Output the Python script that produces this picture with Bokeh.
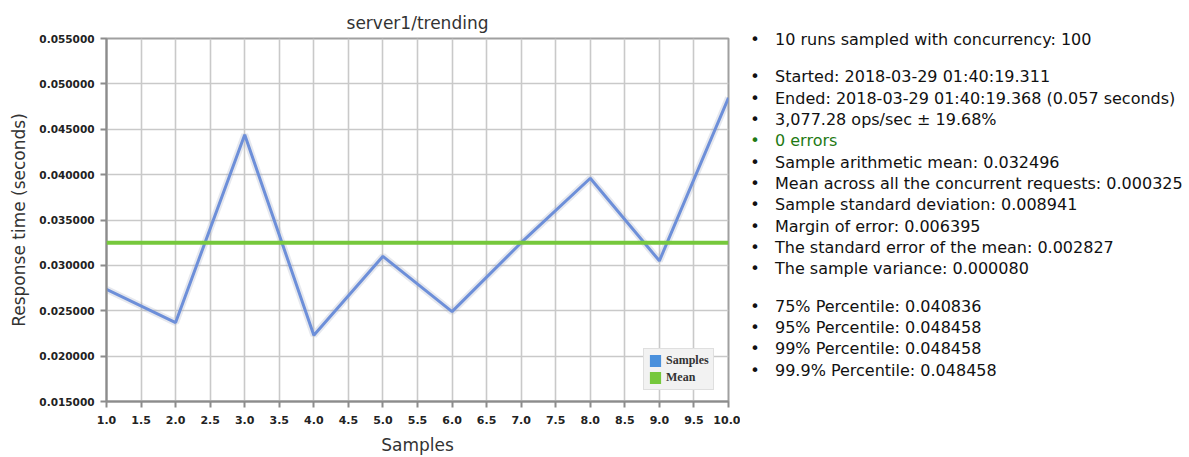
from bokeh.plotting import figure
from bokeh.models import (Range1d, Span, Legend, LegendItem, PrintfTickFormatter, FixedTicker,
                          ColumnDataSource, Div)
from bokeh.layouts import row
from bokeh.embed import file_html
from bokeh.resources import INLINE

# ---------------- data ----------------
title_text = "server1/trending"
x_label = "Samples"
y_label = "Response time (seconds)"
sample_index = [1, 2, 3, 4, 5, 6, 7, 8, 9, 10]
response_times = [0.02735, 0.0237, 0.0444, 0.0223, 0.0310, 0.0249, 0.0325, 0.0396, 0.0305, 0.048458]
mean_value = 0.032496
x_ticks = [1.0, 1.5, 2.0, 2.5, 3.0, 3.5, 4.0, 4.5, 5.0, 5.5, 6.0, 6.5, 7.0, 7.5, 8.0, 8.5, 9.0, 9.5, 10.0]
y_ticks = [0.015, 0.020, 0.025, 0.030, 0.035, 0.040, 0.045, 0.050, 0.055]
legend_labels = ["Samples", "Mean"]

stats_lines = [
    "10 runs sampled with concurrency: 100",
    "Started: 2018-03-29 01:40:19.311",
    "Ended: 2018-03-29 01:40:19.368 (0.057 seconds)",
    "3,077.28 ops/sec \u00b1 19.68%",
    "0 errors",
    "Sample arithmetic mean: 0.032496",
    "Mean across all the concurrent requests: 0.000325",
    "Sample standard deviation: 0.008941",
    "Margin of error: 0.006395",
    "The standard error of the mean: 0.002827",
    "The sample variance: 0.000080",
    "75% Percentile: 0.040836",
    "95% Percentile: 0.048458",
    "99% Percentile: 0.048458",
    "99.9% Percentile: 0.048458",
]
stats_groups = [0, 1, 1, 1, 1, 1, 1, 1, 1, 1, 1, 2, 2, 2, 2]
stats_is_ok = [False, False, False, False, True, False, False, False, False, False, False, False, False, False, False]

# ---------------- styles ----------------
LINE_BLUE = "#6d8fd9"
LEG_BLUE = "#4a90dc"
GREEN = "#76c83c"
GRID = "#c9c9c9"
FONT = "DejaVu Sans"

PW, H = 740, 457
FL, FR, FT, FB = 106, 728, 38, 403   # frame box on the canvas

p = figure(width=PW, height=H, output_backend="svg", toolbar_location=None,
           x_range=Range1d(1, 10), y_range=Range1d(0.015, 0.055),
           min_border_left=FL, min_border_right=PW - FR, min_border_top=FT, min_border_bottom=H - FB,
           title=title_text)
p.title.align = "center"
p.title.vertical_align = "middle"
p.title.text_font = FONT
p.title.text_font_size = "17px"
p.title.text_font_style = "normal"
p.title.text_color = "#333333"
p.title.standoff = 10

p.background_fill_color = "white"
p.border_fill_color = "white"
p.outline_line_color = "#a0a0a0"
p.outline_line_width = 2

p.xgrid.ticker = FixedTicker(ticks=x_ticks)
p.ygrid.ticker = FixedTicker(ticks=y_ticks)
p.grid.grid_line_color = GRID
p.grid.grid_line_width = 1.6

for ax in (p.xaxis[0], p.yaxis[0]):
    ax.axis_line_color = "#8c8c8c"
    ax.axis_line_width = 2
    ax.major_tick_line_color = "#8c8c8c"
    ax.major_tick_line_width = 2
    ax.major_tick_out = 6
    ax.major_tick_in = 0
    ax.minor_tick_line_color = None
    ax.major_label_text_font = FONT
    ax.major_label_text_font_style = "bold"
    ax.major_label_text_color = "#222222"
    ax.axis_label_text_font = FONT
    ax.axis_label_text_font_style = "normal"
    ax.axis_label_text_font_size = "17px"
    ax.axis_label_text_color = "#333333"

p.xaxis.major_label_text_font_size = "11px"
p.yaxis.major_label_text_font_size = "10.5px"
p.xaxis.ticker = FixedTicker(ticks=x_ticks)
p.yaxis.ticker = FixedTicker(ticks=y_ticks)
p.xaxis.formatter = PrintfTickFormatter(format="%.1f")
p.yaxis.formatter = PrintfTickFormatter(format="%.6f")
p.xaxis.axis_label = x_label
p.yaxis.axis_label = y_label
p.xaxis.major_label_standoff = 8
p.yaxis.major_label_standoff = 6
p.xaxis.axis_label_standoff = 8
p.yaxis.axis_label_standoff = 7

src = ColumnDataSource(data=dict(x=sample_index, y=response_times))
p.line("x", "y", source=src, line_width=7, line_color="#9aa4bd", line_alpha=0.25)
p.line("x", "y", source=src, line_width=3, line_color=LINE_BLUE)

p.add_layout(Span(location=mean_value, dimension="width", line_color=GREEN, line_width=4))

# legend swatches: zero-area quads (invisible in the plot, filled squares in the legend)
r_s = p.quad(left="x", right="x", top="y", bottom="y", source=src,
             fill_color=LEG_BLUE, line_color=None)
r_m = p.quad(left="x", right="x", top="y", bottom="y", source=src,
             fill_color=GREEN, line_color=None)
legend = Legend(items=[LegendItem(label=legend_labels[0], renderers=[r_s]),
                       LegendItem(label=legend_labels[1], renderers=[r_m])],
                location=(537, 11))
legend.label_text_font = "Liberation Serif"
legend.label_text_font_style = "bold"
legend.label_text_font_size = "12px"
legend.label_text_color = "#333333"
legend.background_fill_color = "#f2f2f2"
legend.background_fill_alpha = 1
legend.border_line_color = "#cccccc"
legend.padding = 4
legend.spacing = 2
legend.margin = 0
legend.glyph_width = 14
legend.glyph_height = 15
legend.label_height = 15
legend.label_standoff = 4
p.add_layout(legend)

# ---------------- stats panel ----------------
SW = 1189 - PW
TOP = 40
STEP = 21.35
GAP = 15.8
BULLET_CX = 15
TEXT_X = 35
parts = []
for i, (line, g, ok) in enumerate(zip(stats_lines, stats_groups, stats_is_ok)):
    cy = TOP + i * STEP + g * GAP
    col = "#1f7a14" if ok else "#111111"
    parts.append(
        f'<div style="position:absolute;left:0;top:{cy - 11:.1f}px;height:22px;line-height:22px;'
        f'white-space:nowrap;color:{col};">'
        f'<span style="position:absolute;left:{BULLET_CX - 10}px;width:20px;text-align:center;">\u2022</span>'
        f'<span style="position:absolute;left:{TEXT_X}px;">{line}</span></div>'
    )
html = (f'<div style="position:relative;width:{SW}px;height:{H}px;font-family:\'DejaVu Sans\';'
        f'font-size:16px;background:white;">' + "".join(parts) + '</div>')
stats = Div(text=html, width=SW, height=H, styles={"margin": "0", "padding": "0"})

layout = row(p, stats)
open("out.html", "w").write(file_html(layout, INLINE))
